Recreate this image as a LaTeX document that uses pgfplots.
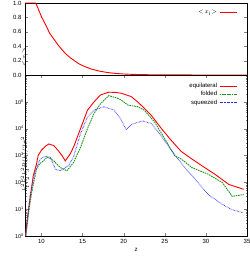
\documentclass[border=0pt]{standalone}
\usepackage{fontspec}
\setmainfont{Liberation Sans}
\usepackage{pgfplots}
\pgfplotsset{compat=1.18}
\definecolor{gnured}{RGB}{255,0,0}
\definecolor{gnugreen}{RGB}{30,150,30}
\definecolor{gnublue}{RGB}{40,40,255}
\begin{document}
\begin{tikzpicture}[font=\fontsize{6}{7}\selectfont]
\begin{axis}[
  at={(25pt,-3pt)}, anchor=north west,
  scale only axis, width=222pt, height=72pt,
  xmin=8, xmax=35, ymin=0, ymax=1,
  clip=false,
  xtick=\empty,
  ytick={0,0.2,0.4,0.6,0.8,1.0},
  yticklabel style={/pgf/number format/.cd,fixed,fixed zerofill,precision=1,assume math mode=true},
  major tick length=3pt,
  ylabel={$<\!x_{\mathrm i}\!>$},
  every axis y label/.style={at={(axis description cs:0,0.5)}, rotate=90, anchor=center, xshift=-18pt},
  axis line style={line width=0.6pt},
  legend style={at={(0.97,0.96)}, anchor=north east, draw=none, fill=none, font=\fontsize{6}{7}\selectfont},
  legend cell align=right, legend plot pos=right,
]
\addplot[color=gnured, line width=0.9pt] coordinates {
(8,1) (9.3,1) (9.5,0.95) (10,0.81) (10.5,0.70) (11,0.58) (11.5,0.50) (12,0.42) (12.5,0.35) (13,0.29) (13.5,0.24) (14,0.20) (14.5,0.16) (15,0.13) (16,0.085) (17,0.055) (18,0.035) (19,0.022) (20,0.014) (21,0.009) (22,0.006) (23,0.004) (25,0.002) (27,0.001) (30,0.0003) (35,0)
};
\addlegendentry{$<\!x_{\mathrm i}\!>$}
\end{axis}
\begin{axis}[
  at={(25pt,-75pt)}, anchor=north west,
  scale only axis, width=222pt, height=161pt,
  xmin=8, xmax=35, ymode=log, ymin=1, ymax=1e6,
  xtick={10,15,20,25,30,35},
  xticklabel style={/pgf/number format/assume math mode=true},
  ytick={1,10,100,1000,1e4,1e5,1e6},
  yticklabels={10\textsuperscript{0},10\textsuperscript{1},10\textsuperscript{2},10\textsuperscript{3},10\textsuperscript{4},10\textsuperscript{5},},
  yticklabel style={font=\fontsize{5.5}{6}\selectfont, inner sep=1pt},
  minor ytick={2,3,4,5,6,7,8,9,20,30,40,50,60,70,80,90,200,300,400,500,600,700,800,900,2000,3000,4000,5000,6000,7000,8000,9000,2e4,3e4,4e4,5e4,6e4,7e4,8e4,9e4,2e5,3e5,4e5,5e5,6e5,7e5,8e5,9e5},
  major tick length=3pt, minor tick length=1.5pt,
  xlabel={z}, xlabel style={yshift=2pt},
  ylabel={$k_1^2k_2^2k_3^2B(k)/2\pi^2$},
  every axis y label/.style={at={(axis description cs:0,0.57)}, rotate=90, anchor=center, xshift=-20pt, inner sep=0pt, font=\fontsize{6}{7}\selectfont},
  axis line style={line width=0.6pt},
  legend style={at={(0.97,0.975)}, anchor=north east, draw=none, fill=none, font=\fontsize{6}{7}\selectfont, row sep=-1.5pt},
  legend cell align=right, legend plot pos=right,
]
\addplot[color=gnured, line width=0.9pt] coordinates {
(8.05,1) (8.3,5) (8.6,23) (9.0,174) (9.4,480) (9.6,1000) (10.0,1580) (10.5,2240) (10.9,2690) (11.5,2340) (12.0,1580) (12.5,1000) (12.9,630) (13.5,1150) (13.9,2040) (14.75,1e4) (15.6,4.9e4) (16.4,1e5) (17.2,1.82e5) (18.2,2.29e5) (19.0,2.24e5) (19.7,2.09e5) (20.9,1.58e5) (21.7,1e5) (22.5,5.75e4) (23.35,3.16e4) (24.6,1e4) (25.8,3630) (27.0,1410) (28.3,741) (29.5,417) (31.1,200) (32.8,83) (34.6,55)
};
\addlegendentry{equilateral}
\addplot[color=gnugreen, line width=0.9pt, dash pattern=on 1.6pt off 0.8pt] coordinates {
(8.1,1) (8.5,10) (8.8,40) (9.4,309) (9.8,500) (10.25,631) (10.65,851) (11.0,794) (11.5,631) (12.3,355) (13.1,269) (13.9,550) (14.75,2000) (15.6,1e4) (16.4,3.7e4) (17.2,8.7e4) (18.2,1.7e5) (19.3,1.35e5) (19.7,1.17e5) (20.5,7.6e4) (21.7,6.6e4) (22.5,4.9e4) (23.75,1.78e4) (25.0,4170) (26.2,977) (27.0,741) (28.3,355) (30.3,200) (32.0,98) (33.2,30) (34.6,35)
};
\addlegendentry{folded}
\addplot[color=gnublue, line width=0.9pt, dash pattern=on 0.5pt off 0.9pt] coordinates {
(8.1,1) (8.6,30) (9.2,234) (9.85,741) (10.5,933) (11.1,851) (11.7,309) (12.3,269) (13.3,417) (13.9,890) (14.75,6460) (15.6,2.75e4) (16.4,4.9e4) (17.6,6.6e4) (18.85,4.9e4) (19.7,2.14e4) (20.3,9100) (20.9,1.41e4) (21.3,1.58e4) (22.3,1.95e4) (23.35,1.55e4) (24.2,7590) (25.4,2340) (26.6,741) (27.6,309) (28.7,129) (30.3,35) (32.0,15) (33.2,9.5) (34.6,7.2)
};
\addlegendentry{squeezed}
\end{axis}
\pgfresetboundingbox
\path[use as bounding box] (0,0) rectangle (249pt,-257pt);
\end{tikzpicture}
\end{document}
